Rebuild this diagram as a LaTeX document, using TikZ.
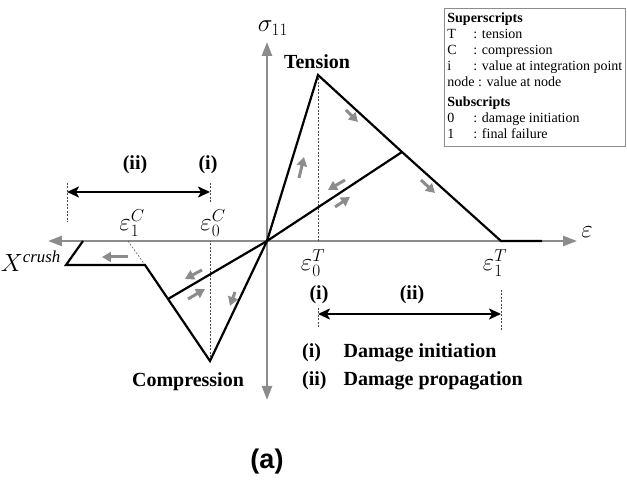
\documentclass[tikz,border=0pt]{standalone}
\usepackage{amsmath}
\usepackage{amssymb}
\usepackage{fontspec}
\setmainfont{Liberation Serif}
\newfontfamily\headfont{Liberation Sans}
\usetikzlibrary{arrows.meta}
\definecolor{axisgray}{RGB}{140,140,140}

\begin{document}
\begin{tikzpicture}[x=1pt,y=1pt,
    axis/.style={draw=axisgray, line width=2.4pt, {Triangle[length=14pt,width=10pt]}-{Triangle[length=14pt,width=10pt]}},
    curve/.style={line width=2.2pt},
    hint/.style={draw=axisgray, line width=3pt, -{Triangle[length=9pt,width=10pt]}},
    guide/.style={line width=0.5pt, dash pattern=on 2pt off 1.5pt, black!70},
    span/.style={line width=2pt, {Stealth[length=12pt,width=11pt,inset=3pt]}-{Stealth[length=12pt,width=11pt,inset=3pt]}},
    lab/.style={font=\fontsize{20}{24}\selectfont\bfseries},
    sym/.style={font=\fontsize{24}{28}\selectfont, inner sep=1pt}]
    \useasboundingbox (-267,-245) rectangle (360,241);
    % 坐标轴
    \coordinate (O) at (0,0);
    \coordinate (XL) at (-219,0);
    \coordinate (XR) at (310,0);
    \coordinate (YT) at (0,199);
    \coordinate (YB) at (0,-159);
    \draw[axis] (XL) -- (XR);
    \draw[axis] (YB) -- (YT);
    \node[sym] (sig) at (6,213) {$\sigma_{11}$};
    \node[sym] (eps) at (320,9) {$\varepsilon$};
    % 拉伸
    \coordinate (P) at (51,166);
    \coordinate (B) at (135,89);
    \coordinate (T1) at (234,0);
    \coordinate (T2) at (275,0);
    \draw[guide] (P) -- (P |- O);
    \draw[curve] (O) -- (P) -- (B) -- (T1) -- (T2);
    \draw[curve] (O) -- (B);
    \node[lab] (tens) at (50,179) {Tension};
    \node[sym] (e0t) at (46,-22) {$\varepsilon^{T}_{0}$};
    \node[sym] (e1t) at (228,-22) {$\varepsilon^{T}_{1}$};
    % 压缩
    \coordinate (V) at (-57,-120);
    \coordinate (K) at (-122,-24);
    \coordinate (L) at (-201,-24);
    \coordinate (A) at (-184,0);
    \coordinate (C1) at (-139,0);
    \coordinate (S) at (-99,-58);
    \draw[guide] (C1) -- (K);
    \draw[guide] (V) -- (V |- O);
    \draw[curve] (A) -- (L) -- (K) -- (V) -- (O);
    \draw[curve] (O) -- (S);
    \node[lab] (comp) at (-79,-141) {Compression};
    \node[sym] (e1c) at (-135,18) {$\varepsilon^{C}_{1}$};
    \node[sym] (e0c) at (-54,18) {$\varepsilon^{C}_{0}$};
    \node[sym, anchor=base east] (xc) at (-205,-31) {$X^{\mathit{crush}}$};
    % 加载方向
    \draw[hint] (32,63) -- (37,84);
    \draw[hint] (79,131) -- (91,119);
    \draw[hint] (154,61) -- (168,48);
    \draw[hint] (78,61) -- (61,51);
    \draw[hint] (68,34) -- (83,44);
    \draw[hint] (-139,-16) -- (-165,-16);
    \draw[hint] (-65,-29) -- (-82,-38);
    \draw[hint] (-79,-58) -- (-62,-48);
    \draw[hint] (-32,-51) -- (-37,-65);
    % 损伤区间
    \coordinate (TL) at (51,-73);
    \coordinate (TR) at (234,-73);
    \draw[guide] (51,-67) -- (51,-87);
    \draw[guide] (234,-49) -- (234,-89);
    \draw[span] (TL) -- (TR);
    \node[lab] (ti) at (52,-54) {(i)};
    \node[lab] (tii) at (145,-54) {(ii)};
    \coordinate (CL) at (-200,49);
    \coordinate (CR) at (-57,49);
    \draw[guide] (-200,58) -- (-200,19);
    \draw[guide] (-57,58) -- (-57,39);
    \draw[span] (CL) -- (CR);
    \node[lab] (cii) at (-132,76) {(ii)};
    \node[lab] (ci) at (-59,76) {(i)};
    \node[lab, anchor=north west, inner sep=0pt] (notes) at (35,-100)
        {\begin{tabular}{@{}l@{\hspace{17pt}}l@{}}(i) & Damage initiation\\[4pt] (ii) & Damage propagation\end{tabular}};
    % 上下标说明
    \node[draw=axisgray, line width=0.8pt, anchor=north west, inner sep=3pt,
        font=\fontsize{14}{16}\selectfont] (legend) at (177,233)
        {\begin{tabular}{@{}p{26pt}@{}l@{}}
        \multicolumn{2}{@{}l@{}}{\textbf{Superscripts}}\\
        T & : tension\\
        C & : compression\\
        i & : value at integration point\\
        \multicolumn{2}{@{}l@{}}{node : value at node}\\[4pt]
        \multicolumn{2}{@{}l@{}}{\textbf{Subscripts}}\\
        0 & : damage initiation\\
        1 & : final failure
        \end{tabular}};
    \node[font=\headfont\bfseries\fontsize{27}{32}\selectfont] (cap) at (0,-221) {(a)};
\end{tikzpicture}
\end{document}
